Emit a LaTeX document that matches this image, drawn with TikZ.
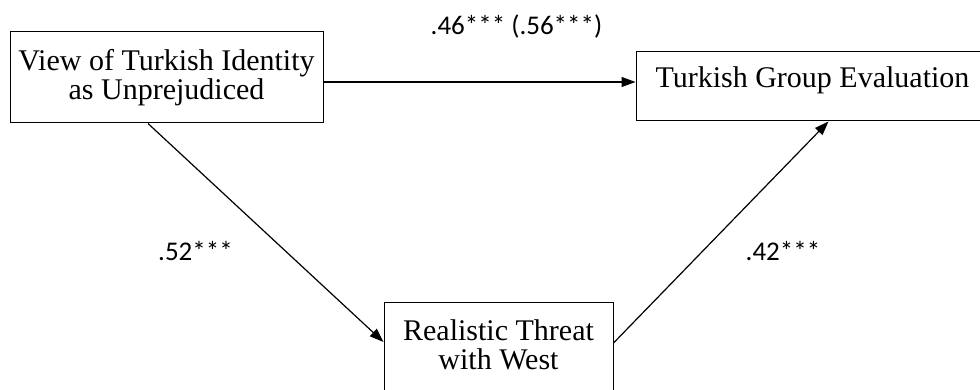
\documentclass[tikz,border=0pt]{standalone}
\usepackage{fontspec}
\setmainfont{Liberation Serif}
\newfontfamily\coeffont{Carlito}
\usetikzlibrary{arrows.meta}
\begin{document}
\begin{tikzpicture}[x=1pt,y=-1pt,
  box/.style={draw, line width=1pt, inner sep=0pt, align=center,
    font=\fontsize{30}{29}\selectfont},
  pathline/.style={line width=1.2pt, -{Triangle[length=14pt,width=10pt]}},
  coef/.style={font=\coeffont\fontsize{27}{30}\selectfont, anchor=base, inner sep=0pt}]
\useasboundingbox (0,0) rectangle (980,390);

% variables of the mediation model
\node[box, minimum width=313pt, minimum height=91pt] (view) at (166.5,77.5)
  {View of Turkish Identity\\as Unprejudiced};
\node[box, minimum width=353pt, minimum height=69pt,
  text height=20.5pt, text depth=18.5pt] (eval) at (812.5,86.5)
  {Turkish Group Evaluation};
\node[box, minimum width=229pt, minimum height=100pt, text depth=15.5pt] (threat) at (498.5,352)
  {Realistic Threat\\with West};

% paths
\draw[pathline] ([yshift=-4.5pt]view.east) -- ([yshift=-4.5pt]view.east -| eval.west);
\draw[pathline] ([xshift=-18.5pt]view.south) -- ([yshift=10pt]threat.west);
\draw[pathline] ([yshift=9pt]threat.east) -- ([xshift=16pt]eval.south);

% path coefficients
\node[coef] (cdirect) at (516.5,35) {.46*** (.56***)};
\node[coef] (ca) at (195.5,260) {.52***};
\node[coef] (cb) at (783,260) {.42***};
\end{tikzpicture}
\end{document}
